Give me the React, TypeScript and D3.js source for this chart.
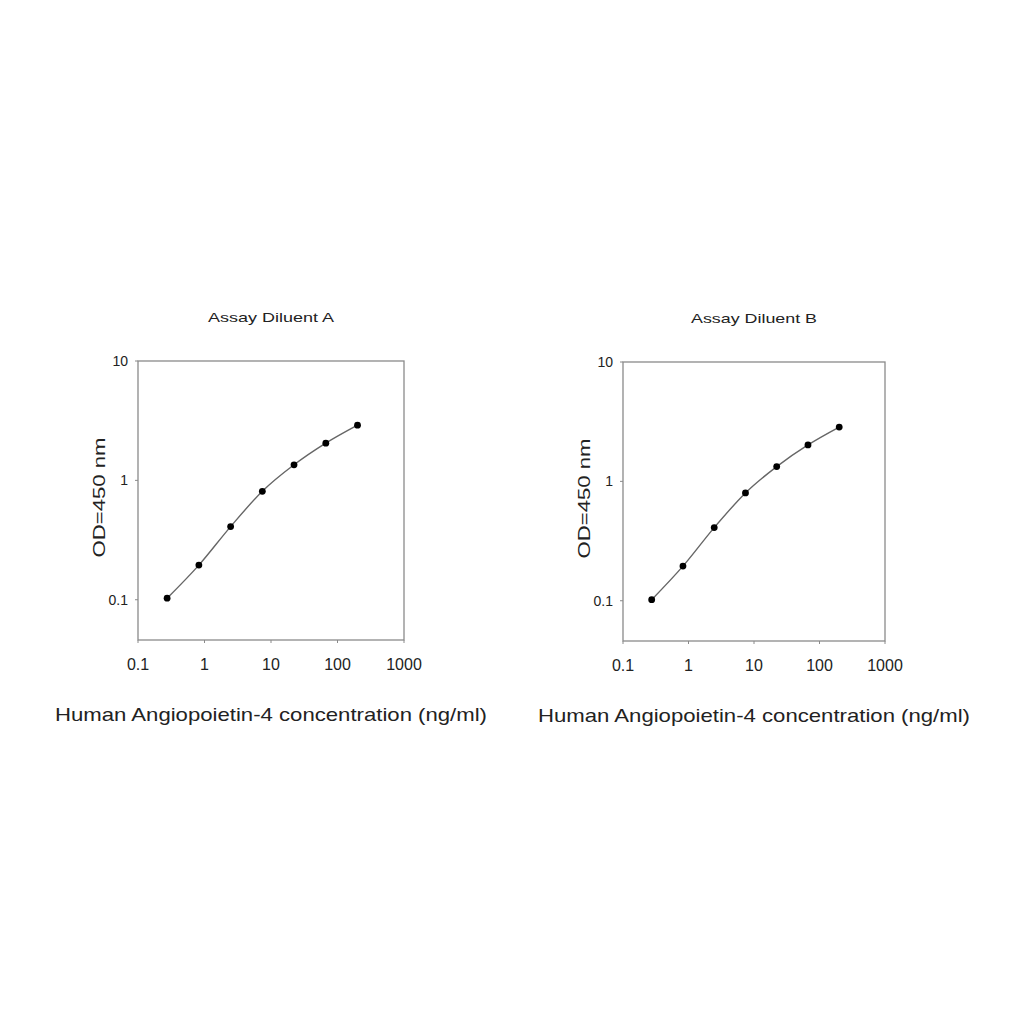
import * as d3 from 'd3';

// concentration (ng/ml), 3-fold serial dilution
const concentrations = [0.274, 0.823, 2.47, 7.41, 22.2, 66.7, 200];
const odDiluentA = [0.103, 0.195, 0.41, 0.81, 1.35, 2.05, 2.9];
const odDiluentB = [0.102, 0.195, 0.41, 0.8, 1.33, 2.02, 2.85];
const xTicks = [0.1, 1, 10, 100, 1000];
const yTicks = [0.1, 1, 10];
const panelTitles = ['Assay Diluent A', 'Assay Diluent B'];

const FONT = 'Liberation Sans, Arial, Helvetica, sans-serif';

interface PanelProps {
  title: string;
  values: number[];
  left: number;
  top: number;
  width: number;
  height: number;
}

function Panel({ title, values, left, top, width, height }: PanelProps) {
  const x = d3.scaleLog().domain([0.1, 1000]).range([0, width]);
  const y = d3.scaleLog().domain([0.046, 10]).range([height, 0]);
  const pts = concentrations.map((c, i) => [x(c), y(values[i])] as [number, number]);
  const line = d3.line().curve(d3.curveMonotoneX)(pts) || '';
  const axisColor = '#8a8a8a';

  return (
    <g transform={`translate(${left},${top})`}>
      <text
        x={width / 2}
        y={-39}
        textAnchor="middle"
        fontSize={13}
        fill="#222"
        textLength={126}
        lengthAdjust="spacingAndGlyphs"
      >
        {title}
      </text>
      <rect x={0} y={0} width={width} height={height} fill="none" stroke={axisColor} strokeWidth={1.3} />
      {yTicks.map(t => (
        <g key={t}>
          <line x1={-3} x2={0} y1={y(t)} y2={y(t)} stroke={axisColor} />
          <text x={-10} y={y(t)} dy="0.35em" textAnchor="end" fontSize={14} fill="#222">
            {t}
          </text>
        </g>
      ))}
      {xTicks.map(t => (
        <g key={t}>
          <line x1={x(t)} x2={x(t)} y1={height} y2={height + 3} stroke={axisColor} />
          <text x={x(t)} y={height + 30} textAnchor="middle" fontSize={16} fill="#222">
            {t}
          </text>
        </g>
      ))}
      <text
        transform={`translate(${-33},${height / 2 - 3}) rotate(-90)`}
        textAnchor="middle"
        fontSize={17}
        fill="#222"
        textLength={120}
        lengthAdjust="spacingAndGlyphs"
      >
        OD=450 nm
      </text>
      <text
        x={width / 2}
        y={height + 81}
        textAnchor="middle"
        fontSize={19}
        fill="#222"
        textLength={432}
        lengthAdjust="spacingAndGlyphs"
      >
        Human Angiopoietin-4 concentration (ng/ml)
      </text>
      <path d={line} fill="none" stroke="#666" strokeWidth={1.4} />
      {pts.map((p, i) => (
        <circle key={i} cx={p[0]} cy={p[1]} r={3.4} fill="#000" />
      ))}
    </g>
  );
}

export default function App() {
  return (
    <div style={{ position: 'absolute', left: 0, top: 0 }}>
      <svg width={1024} height={1024} style={{ display: 'block', fontFamily: FONT, background: '#fff' }}>
        <Panel title={panelTitles[0]} values={odDiluentA} left={138} top={361} width={266} height={279} />
        <Panel title={panelTitles[1]} values={odDiluentB} left={623} top={362} width={262} height={279} />
      </svg>
    </div>
  );
}
